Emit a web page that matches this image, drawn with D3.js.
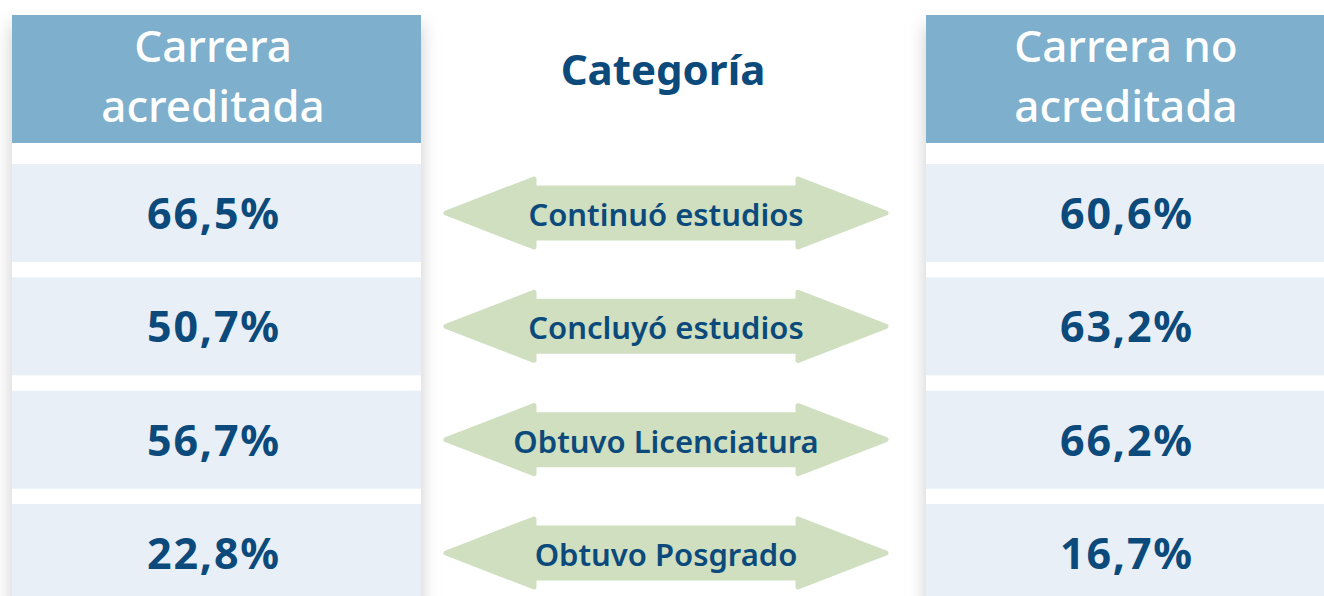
<!DOCTYPE html>
<html>
<head>
<meta charset="utf-8">
<script src="https://cdn.jsdelivr.net/npm/d3@7"></script>
<style>
  html, body { margin: 0; padding: 0; background: #ffffff; }
  svg { display: block; }
  text { font-family: "Noto Sans", "Open Sans", sans-serif; }
</style>
</head>
<body>
<svg id="chart" width="1324" height="596"></svg>
<script>
// ---- data ----
const categories = ["Continuó estudios", "Concluyó estudios", "Obtuvo Licenciatura", "Obtuvo Posgrado"];
const acreditada = [66.5, 50.7, 56.7, 22.8];
const noAcreditada = [60.6, 63.2, 66.2, 16.7];
const columnHeaders = [["Carrera", "acreditada"], ["Carrera no", "acreditada"]];
const middleTitle = "Categoría";

// ---- setup ----
const W = 1324, H = 596;
const svg = d3.select("#chart");
const locale = d3.formatLocale({ decimal: ",", thousands: ".", grouping: [3], currency: ["", ""] });
const fmt = v => locale.format(".1f")(v) + "%";

const C = {
  header: "#7eafcc",
  row: "#e8eff7",
  arrow: "#cfdfbf",
  text: "#0b4a7b"
};

// rows via band scale
const y = d3.scaleBand()
  .domain(categories)
  .range([164, 602])
  .paddingInner(0.135)
  .paddingOuter(0);

// columns
const columns = [
  { x0: 12, x1: 421, cx: 213, values: acreditada, header: columnHeaders[0] },
  { x0: 926, x1: 1330, cx: 1126, values: noAcreditada, header: columnHeaders[1] }
];

// shadow filter
const defs = svg.append("defs");
defs.append("filter").attr("id", "shadow")
  .attr("x", "-20%").attr("y", "-20%").attr("width", "140%").attr("height", "140%")
  .append("feGaussianBlur").attr("stdDeviation", "9 9");

const headerTop = 15, headerBottom = 143;

columns.forEach(col => {
  const g = svg.append("g");
  g.append("rect")
    .attr("x", col.x0).attr("y", headerTop + 10)
    .attr("width", col.x1 - col.x0).attr("height", H + 40 - headerTop)
    .attr("fill", "#cbcbcb")
    .attr("filter", "url(#shadow)");
  g.append("rect")
    .attr("x", col.x0).attr("y", 0)
    .attr("width", col.x1 - col.x0).attr("height", H)
    .attr("fill", "#ffffff");
  g.append("rect")
    .attr("x", col.x0).attr("y", headerTop)
    .attr("width", col.x1 - col.x0).attr("height", headerBottom - headerTop)
    .attr("fill", C.header);
  g.selectAll("text.h").data(col.header).join("text")
    .attr("class", "h")
    .attr("x", col.cx)
    .attr("y", (d, i) => 62 + i * 60)
    .attr("text-anchor", "middle")
    .attr("fill", "#ffffff")
    .attr("font-size", 44)
    .attr("font-weight", 500)
    .text(d => d);
  g.selectAll("rect.row").data(categories).join("rect")
    .attr("class", "row")
    .attr("x", col.x0).attr("y", d => y(d))
    .attr("width", col.x1 - col.x0).attr("height", y.bandwidth())
    .attr("fill", C.row);
  g.selectAll("text.v").data(categories).join("text")
    .attr("class", "v")
    .attr("x", col.cx + 1)
    .attr("y", d => y(d) + y.bandwidth() / 2 + 16)
    .attr("text-anchor", "middle")
    .attr("fill", C.text)
    .attr("font-size", 43)
    .attr("font-weight", 700)
    .attr("letter-spacing", 1.8)
    .text((d, i) => fmt(col.values[i]));
});

// middle title
svg.append("text")
  .attr("x", 663).attr("y", 85)
  .attr("text-anchor", "middle")
  .attr("fill", C.text)
  .attr("font-size", 42)
  .attr("font-weight", 700)
  .text(middleTitle);

// arrows
const ax0 = 446, ax1 = 886, headLen = 88, headHalf = 34, shaftHalf = 25;
const arrowPath = cy => {
  const p = d3.path();
  p.moveTo(ax0, cy);
  p.lineTo(ax0 + headLen, cy - headHalf);
  p.lineTo(ax0 + headLen, cy - shaftHalf);
  p.lineTo(ax1 - headLen, cy - shaftHalf);
  p.lineTo(ax1 - headLen, cy - headHalf);
  p.lineTo(ax1, cy);
  p.lineTo(ax1 - headLen, cy + headHalf);
  p.lineTo(ax1 - headLen, cy + shaftHalf);
  p.lineTo(ax0 + headLen, cy + shaftHalf);
  p.lineTo(ax0 + headLen, cy + headHalf);
  p.closePath();
  return p.toString();
};
const ag = svg.append("g");
ag.selectAll("path").data(categories).join("path")
  .attr("d", d => arrowPath(y(d) + y.bandwidth() / 2))
  .attr("fill", C.arrow)
  .attr("stroke", C.arrow)
  .attr("stroke-width", 5)
  .attr("stroke-linejoin", "round");
ag.selectAll("text").data(categories).join("text")
  .attr("x", 666)
  .attr("y", d => y(d) + y.bandwidth() / 2 + 13)
  .attr("text-anchor", "middle")
  .attr("fill", C.text)
  .attr("font-size", 31)
  .attr("font-weight", 600)
  .text(d => d);
</script>
</body>
</html>
